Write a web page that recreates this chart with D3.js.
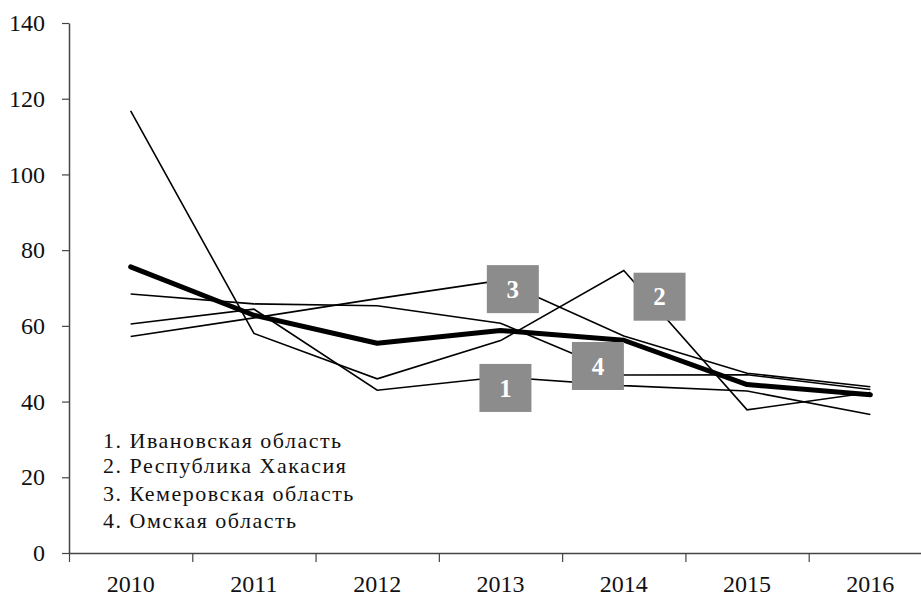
<!DOCTYPE html>
<html><head><meta charset="utf-8">
<script src="https://cdn.jsdelivr.net/npm/d3@7"></script>
<style>body{margin:0;background:#fff}svg{display:block}</style>
</head><body>
<svg id="c" width="921" height="596"></svg>
<script>
const years = [2010, 2011, 2012, 2013, 2014, 2015, 2016];
const yTickValues = [0, 20, 40, 60, 80, 100, 120, 140];
const ivanovo  = [60.5, 64.4, 43.0, 46.5, 44.2, 42.8, 36.6];
const khakasia = [116.8, 58.0, 46.0, 56.1, 74.6, 37.8, 42.4];
const kemerovo = [57.2, 62.1, 67.2, 72.0, 57.3, 47.5, 43.9];
const omsk     = [68.4, 65.8, 65.3, 60.7, 47.0, 47.1, 43.2];
const average  = [75.6, 62.8, 55.4, 58.8, 56.2, 44.5, 41.8];
const legendItems = ["1. Ивановская область", "2. Республика Хакасия", "3. Кемеровская область", "4. Омская область"];
const labelText = ["1", "2", "3", "4"];
const labelYear = [2013.04, 2014.29, 2013.10, 2013.79];
const labelValue = [43.6, 67.7, 69.7, 49.4];

const FONT = "Liberation Serif";
const svg = d3.select("#c").attr("font-family", FONT);
const x = d3.scaleLinear().domain([2009.5, 2016.5]).range([69, 932]);
const y = d3.scaleLinear().domain([0, 140]).range([553, 23]);

const ya = svg.append("g").attr("transform", "translate(69,0)")
  .call(d3.axisLeft(y).tickValues(yTickValues).tickSize(7).tickPadding(17).tickSizeOuter(0))
  .attr("font-family", FONT).attr("font-size", 24);
ya.select(".domain").attr("stroke", "#444").attr("stroke-width", 1.5);
ya.selectAll(".tick line").attr("stroke", "#444").attr("stroke-width", 1.2);
ya.selectAll("text").attr("fill", "#111");

const bounds = years.map(v => v - 0.5);
const xa = svg.append("g").attr("transform", "translate(0,553)")
  .call(d3.axisBottom(x).tickValues(bounds).tickSize(9).tickFormat("").tickSizeOuter(0));
xa.select(".domain").attr("stroke", "#444").attr("stroke-width", 1.5);
xa.selectAll(".tick line").attr("stroke", "#444").attr("stroke-width", 1.2);
svg.append("g").attr("font-family", FONT).attr("font-size", 24).selectAll("text").data(years).join("text")
  .attr("text-anchor", "middle").attr("x", d => x(d)).attr("y", 592)
  .attr("fill", "#111").text(d => d);

const line = d3.line().x((d, i) => x(years[i])).y(d => y(d));
[ivanovo, khakasia, kemerovo, omsk].forEach(s => {
  svg.append("path").datum(s).attr("d", line).attr("fill", "none")
    .attr("stroke", "#000").attr("stroke-width", 1.6);
});
svg.append("path").datum(average).attr("d", line).attr("fill", "none")
  .attr("stroke", "#000").attr("stroke-width", 5).attr("stroke-linejoin", "round").attr("stroke-linecap", "round");

const lg = svg.append("g").selectAll("g").data(labelText).join("g")
  .attr("transform", (d, i) => `translate(${x(labelYear[i])},${y(labelValue[i])})`);
lg.append("rect").attr("x", -26).attr("y", -24).attr("width", 52).attr("height", 48).attr("fill", "#8c8c8c");
lg.append("text").attr("text-anchor", "middle").attr("dy", "0.35em")
  .attr("font-family", FONT).attr("font-weight", "bold").attr("font-size", 25).attr("fill", "#fff").text(d => d);

const legendY = [448, 473, 501, 528];
svg.append("g").attr("font-family", FONT).attr("font-size", 22).attr("letter-spacing", 1.5)
  .selectAll("text").data(legendItems).join("text")
  .attr("x", 103).attr("y", (d, i) => legendY[i])
  .attr("fill", "#111").text(d => d);
</script>
</body></html>
